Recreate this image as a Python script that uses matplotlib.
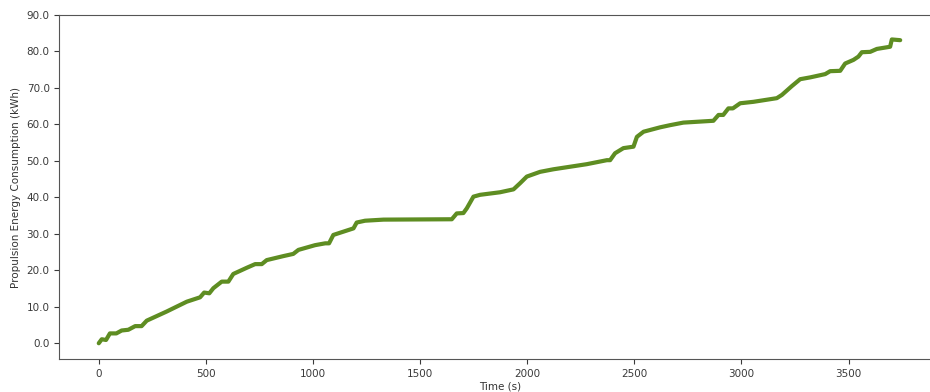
import matplotlib.pyplot as plt
from matplotlib.ticker import FormatStrFormatter

# cumulative propulsion energy over the trip
time_s = [0, 14, 34, 52, 82, 107, 138, 170, 200, 224, 317, 411, 473, 492, 516,
          535, 574, 605, 628, 691, 730, 761, 784, 862, 908, 932, 986, 1010,
          1057, 1075, 1095, 1142, 1189, 1204, 1243, 1329, 1648, 1671, 1702,
          1718, 1749, 1780, 1873, 1936, 1967, 1998, 2060, 2122, 2200, 2278,
          2372, 2387, 2410, 2449, 2496, 2512, 2543, 2620, 2667, 2729, 2869,
          2893, 2915, 2939, 2960, 2994, 3056, 3165, 3189, 3235, 3274, 3321,
          3391, 3414, 3461, 3484, 3523, 3546, 3562, 3601, 3632, 3694, 3702,
          3741]
energy_kwh = [0.0, 1.1, 0.9, 2.7, 2.7, 3.5, 3.7, 4.7, 4.7, 6.2, 8.7, 11.4,
              12.6, 13.9, 13.7, 15.1, 16.9, 16.9, 19.0, 20.7, 21.7, 21.7,
              22.8, 23.9, 24.5, 25.6, 26.5, 26.9, 27.4, 27.4, 29.7, 30.6,
              31.5, 33.1, 33.6, 33.9, 34.0, 35.6, 35.7, 37.0, 40.2, 40.7,
              41.4, 42.2, 43.9, 45.7, 47.0, 47.7, 48.4, 49.1, 50.2, 50.2,
              52.1, 53.5, 53.9, 56.6, 58.0, 59.2, 59.8, 60.5, 61.0, 62.6,
              62.6, 64.4, 64.4, 65.8, 66.2, 67.2, 68.1, 70.5, 72.4, 72.9,
              73.8, 74.6, 74.7, 76.7, 77.7, 78.6, 79.8, 79.9, 80.7, 81.3,
              83.3, 83.1]

plt.rcParams["font.size"] = 7.5

fig = plt.figure(figsize=(9.3, 3.92), dpi=100)
ax = fig.add_axes([0.0638, 0.0834, 0.947, 0.8783])

ax.plot(time_s, energy_kwh, color="#5e8d22", linewidth=3.0,
        solid_joinstyle="round", solid_capstyle="round")

ax.set_xlim(-184, 3927)
ax.set_ylim(-4.4, 90)
ax.set_xticks([0, 500, 1000, 1500, 2000, 2500, 3000, 3500])
ax.set_yticks([0, 10, 20, 30, 40, 50, 60, 70, 80, 90])
ax.yaxis.set_major_formatter(FormatStrFormatter("%.1f"))

for s in ax.spines.values():
    s.set_color("#555555")
ax.spines["right"].set_visible(False)
ax.tick_params(colors="#3a3a3a", length=3.5)

ax.set_xlabel("Time (s)", labelpad=2, color="#333333")
ax.set_ylabel("Propulsion Energy Consumption (kWh)", labelpad=4, color="#333333")

fig.savefig("out.png", dpi=100)
plt.close(fig)
